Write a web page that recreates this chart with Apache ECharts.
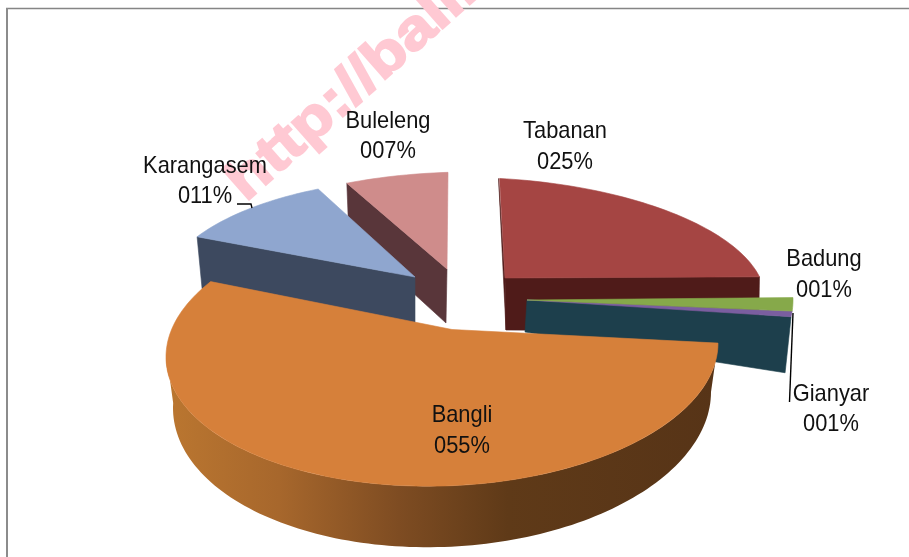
<!DOCTYPE html>
<html><head><meta charset="utf-8">
<style>html,body{margin:0;padding:0;background:#fff}#c{width:909px;height:557px}</style>
<script src="https://cdn.jsdelivr.net/npm/echarts@6/dist/echarts.min.js"></script>
</head><body><div id="c"></div>
<script>
// ---- data ----
const categories = ['Tabanan', 'Badung', 'Gianyar', 'Bangli', 'Karangasem', 'Buleleng'];
const shares = [25, 1.4, 0.6, 55, 11, 7];
const watermark = 'http://bali.bps.go.id';

// ---- drawing constants: one exploded, tilted disc for each slice ----
const FONT = '24px "Liberation Sans", Arial, sans-serif';
const GEO = {
  Tabanan:    {cx:490,cy:288,rx:275,ry:110,tilt:.04, start:-88,  stretch:.85,  apex:[505,278], top:'#a54543', side:'#4f1b19', d0:[-1,55], d1:[1,52], depthFrom:'end', label:[565,131,162], z:20},
  Badung:     {cx:527,cy:300,rx:266,ry:140,tilt:0,   start:-1,   stretch:1.1,  apex:[527,300], top:'#86a94a', label:[824,259,290], z:40},
  Gianyar:    {cx:527,cy:300,rx:266,ry:140,tilt:0,   start:4.5,  stretch:1.1,  apex:[527,300], top:'#7a5ea0', side:'#1d3f4c', d0:[-6,56], d1:[-2,32], depthFrom:'end', label:[831,394,424], z:38},
  Bangli:     {cx:442,cy:350,rx:276,ry:136,tilt:-.025,start:0,   stretch:1.076,apex:[452,329.5], top:'#d6803a', label:[462,415,446], z:50},
  Karangasem: {cx:450,cy:303,rx:290,ry:125,tilt:.02, start:209.3,stretch:.85,  apex:[415,277], top:'#8fa6cf', side:'#3d495f', d0:[5,52], d1:[0,50], depthFrom:'start', label:[205,166,196], z:30},
  Buleleng:   {cx:470,cy:282,rx:280,ry:110,tilt:0,   start:243.9,stretch:.857, apex:[447,269], top:'#cf8c8b', side:'#59363a', d0:[2,51], d1:[-1,54], depthFrom:'start', label:[388,121,151], z:10}
};
const BANGLI_WALL = {cx:442,cy:400,rx:269,ry:147,tilt:-.03};
const LEADERS = [
  [[793,313],[789.5,402]],
  [[237,204],[251,204],[252,208]]
];

const rad = a => a * Math.PI / 180;
const onDisc = (g, a) => {
  const dx = g.rx * Math.cos(rad(a));
  return [g.cx + dx, g.cy + g.ry * Math.sin(rad(a)) + g.tilt * dx];
};
const arc = (g, a0, a1) => {
  const n = Math.max(4, Math.ceil(Math.abs(a1 - a0) / 1.5)), out = [];
  for (let i = 0; i <= n; i++) out.push(onDisc(g, a0 + (a1 - a0) * i / n));
  return out;
};
const plus = (p, d) => [p[0] + d[0], p[1] + d[1]];
const poly = (points, fill, z2) => ({type:'polygon', z2, shape:{points}, style:{fill, stroke:fill, lineWidth:.6}});
const pad = v => String(Math.round(v)).padStart(3, '0') + '%';
const line = (x, y, text, z2) => ({
  type:'text', x, y, scaleX:.91, z2,
  style:{text, font:FONT, fill:'#111', align:'center', verticalAlign:'middle', textAlign:'center', textVerticalAlign:'middle'}
});

function renderItem(params, api) {
  const name = categories[api.value(0)], value = api.value(1), g = GEO[name];
  const sweep = value * 3.6 * g.stretch, rim = arc(g, g.start, g.start + sweep);
  const first = rim[0], last = rim[rim.length - 1], kids = [];
  if (name === 'Bangli') {
    const walls = arc(g, 0, 182).concat(arc(BANGLI_WALL, 182, 0));
    kids.push({type:'polygon', z2:g.z - 1, shape:{points:walls}, style:{
      fill:{type:'linear', global:true, x:170, y:0, x2:715, y2:0, colorStops:[
        {offset:0, color:'#ba7630'}, {offset:.2, color:'#a7672c'}, {offset:.42, color:'#7e4c22'},
        {offset:.62, color:'#5f3a18'}, {offset:1, color:'#573417'}]}
    }});
  } else if (g.side) {
    const edge = g.depthFrom === 'start' ? first : last;
    kids.push(poly([edge, g.apex, plus(g.apex, g.d1), plus(edge, g.d0)], g.side, g.z - 1));
    if (name === 'Tabanan') kids.push(poly([[first[0] - 1, first[1]], g.apex, plus(g.apex, g.d1)], g.side, g.z - 1));
  }
  kids.push(poly([g.apex].concat(rim), g.top, g.z));
  kids.push(line(g.label[0], g.label[1], name, 90));
  kids.push(line(g.label[0], g.label[2], pad(value), 90));
  return {type:'group', children:kids};
}

const chart = echarts.init(document.getElementById('c'), null, {renderer:'canvas'});
chart.setOption({
  animation:false,
  backgroundColor:'#fff',
  graphic:[
    {type:'line', z:0, shape:{x1:6, y1:8.5, x2:909, y2:8.5}, style:{stroke:'#858585', lineWidth:1.5}},
    {type:'line', z:0, shape:{x1:7, y1:8, x2:7, y2:557}, style:{stroke:'#8c8c8c', lineWidth:2}},
    {type:'text', z:1, x:254, y:212, rotation:rad(41.5), scaleX:1.17,
     style:{text:watermark, font:'bold 56px "Liberation Sans", Arial, sans-serif', fill:'#ffc9d3', stroke:'#ffc9d3', lineWidth:2,
            align:'left', verticalAlign:'bottom', textAlign:'left', textVerticalAlign:'bottom'}},
    ...LEADERS.map(points => ({type:'polyline', z:9, shape:{points}, style:{stroke:'#000', lineWidth:1.4, fill:null}}))
  ],
  series:[{
    type:'custom', coordinateSystem:'none', z:5, silent:true,
    renderItem,
    data:categories.map((c, i) => [i, shares[i]])
  }]
});
</script></body></html>
